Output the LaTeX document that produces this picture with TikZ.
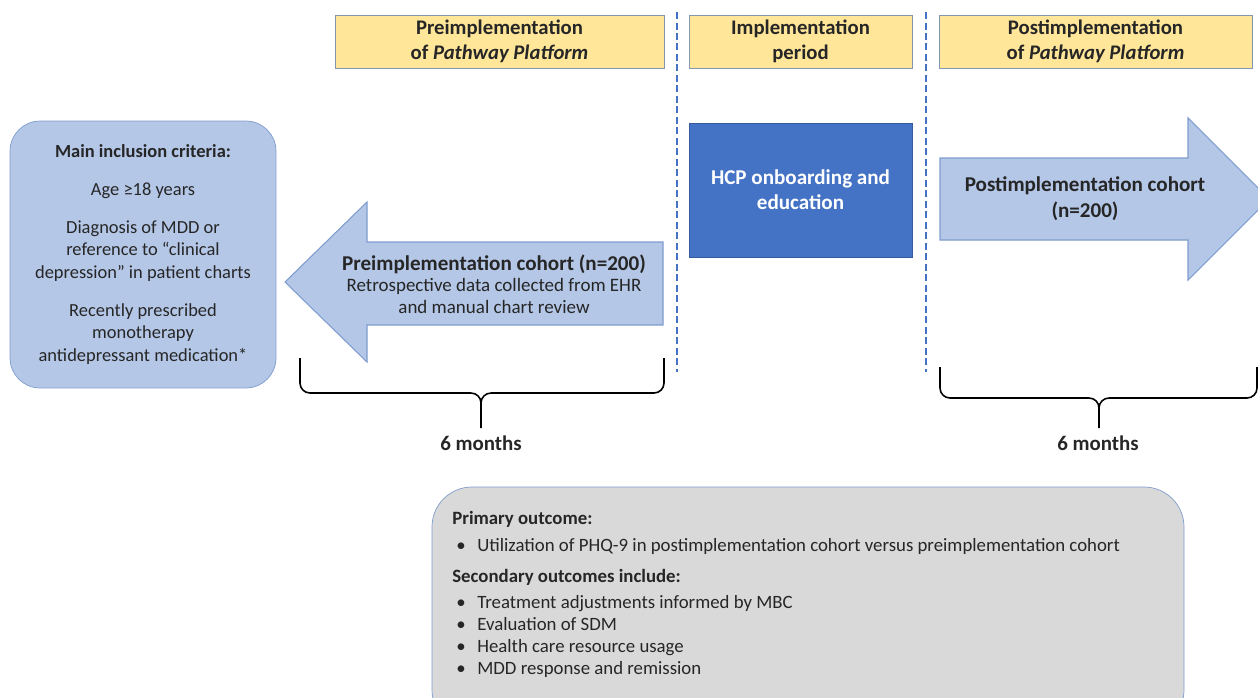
\documentclass[tikz,border=0pt]{standalone}
\usepackage{fontspec}
\setmainfont{Carlito}
\definecolor{hdrfill}{RGB}{255,230,153}
\definecolor{hdrline}{RGB}{132,151,176}
\definecolor{cohblue}{RGB}{180,199,231}
\definecolor{cohline}{RGB}{127,156,207}
\definecolor{hcpblue}{RGB}{68,114,196}
\definecolor{outgray}{RGB}{217,217,217}
\usetikzlibrary{positioning}

\begin{document}
\begin{tikzpicture}[
  x=0.02cm, y=-0.02cm,
  every node/.style={font=\fontsize{10.5}{12.8}\selectfont,text=black!85},
  hdrbox/.style={draw=hdrline,fill=hdrfill,minimum height=1.06cm,align=center,inner sep=0pt,
                 font=\fontsize{11.8}{14.4}\selectfont\bfseries},
  critbox/.style={draw=cohline,fill=cohblue,rounded corners=0.6cm,minimum width=5.32cm,
                  minimum height=5.34cm,align=center,inner sep=0pt},
  cohort/.style={draw=cohline,fill=cohblue,line width=0.6pt},
  sepline/.style={draw=hcpblue,line width=1.3pt,dash pattern=on 0.14cm off 0.07cm},
  bracepath/.style={draw=black,line width=0.9pt},
]
  \useasboundingbox (0,0) rectangle (1258,697);
  \clip (0,0) rectangle (1258,697);

  % Period headers
  \node[hdrbox,minimum width=6.58cm] (pre) at (499.5,41.5) {Preimplementation\\of \textit{Pathway Platform}};
  \node[hdrbox,minimum width=4.46cm] (impl) at (800.5,41.5) {Implementation\\period};
  \node[hdrbox,minimum width=6.26cm] (post) at (1095.5,41.5) {Postimplementation\\of \textit{Pathway Platform}};

  % Separators
  \draw[sepline] (677,12) -- (677,372);
  \draw[sepline] (926,12) -- (926,372);

  % Inclusion criteria
  \node[critbox] (crit) at (143,254.5) {%
    \textbf{Main inclusion criteria:}\\[9pt]
    Age ≥18 years\\[8.5pt]
    Diagnosis of MDD or\\
    reference to “clinical\\
    depression” in patient charts\\[9pt]
    Recently prescribed\\
    monotherapy\\
    antidepressant medication*
  };

  % Preimplementation cohort
  \draw[cohort] (663,242) -- (367,242) -- (367,202) -- (285,282) -- (367,362)
    -- (367,325) -- (663,325) -- cycle;
  \node[align=center,font=\fontsize{10.8}{12.2}\selectfont] (precoh) at (494,284) {%
    {\fontsize{12}{12.2}\selectfont\bfseries Preimplementation cohort (n=200)}\\
    Retrospective data collected from EHR\\
    and manual chart review
  };

  % HCP onboarding
  \node[draw=hcpblue!80!black,fill=hcpblue,minimum width=4.46cm,minimum height=2.68cm,
        align=center,text=white,font=\fontsize{12}{14.4}\selectfont\bfseries] (hcp) at (800.5,190)
    {HCP onboarding and\\education};

  % Postimplementation cohort
  \draw[cohort] (940,158) -- (1188,158) -- (1188,118) -- (1269,199) -- (1188,280)
    -- (1188,240) -- (940,240) -- cycle;
  \node[align=center,font=\fontsize{12}{14.6}\selectfont\bfseries] (postcoh) at (1085,199)
    {Postimplementation cohort\\(n=200)};

  % Braces
  \draw[bracepath] (300,358) -- (300,383) to[out=-90,in=180] (310,393) -- (471,393)
    to[out=0,in=90] (481,403) -- (481,428);
  \draw[bracepath] (664,358) -- (664,383) to[out=-90,in=0] (654,393) -- (491,393)
    to[out=180,in=90] (481,403);
  \draw[bracepath] (940,367) -- (940,388) to[out=-90,in=180] (950,398) -- (1089,398)
    to[out=0,in=90] (1099,408) -- (1099,428);
  \draw[bracepath] (1257,367) -- (1257,388) to[out=-90,in=0] (1247,398) -- (1109,398)
    to[out=180,in=90] (1099,408);
  \node[font=\fontsize{11.9}{12.8}\selectfont\bfseries] (premonths) at (481,443) {6 months};
  \node[font=\fontsize{11.9}{12.8}\selectfont\bfseries] (postmonths) at (1098,443) {6 months};

  % Outcomes
  \draw[draw=cohline,fill=outgray,rounded corners=0.8cm] (432,487) rectangle (1184,730);
  \node[anchor=north west,align=left,inner sep=0pt,font=\fontsize{10.7}{12.5}\selectfont] (outc) at (452,511) {%
    \textbf{Primary outcome:}\\[2.6pt]
    \makebox[0.5cm][l]{\hspace*{0.08cm}•}Utilization of PHQ-9 in postimplementation cohort versus preimplementation cohort\\[5.4pt]
    \textbf{Secondary outcomes include:}\\[2.4pt]
    \makebox[0.5cm][l]{\hspace*{0.08cm}•}Treatment adjustments informed by MBC\\
    \makebox[0.5cm][l]{\hspace*{0.08cm}•}Evaluation of SDM\\
    \makebox[0.5cm][l]{\hspace*{0.08cm}•}Health care resource usage\\
    \makebox[0.5cm][l]{\hspace*{0.08cm}•}MDD response and remission
  };
\end{tikzpicture}
\end{document}
